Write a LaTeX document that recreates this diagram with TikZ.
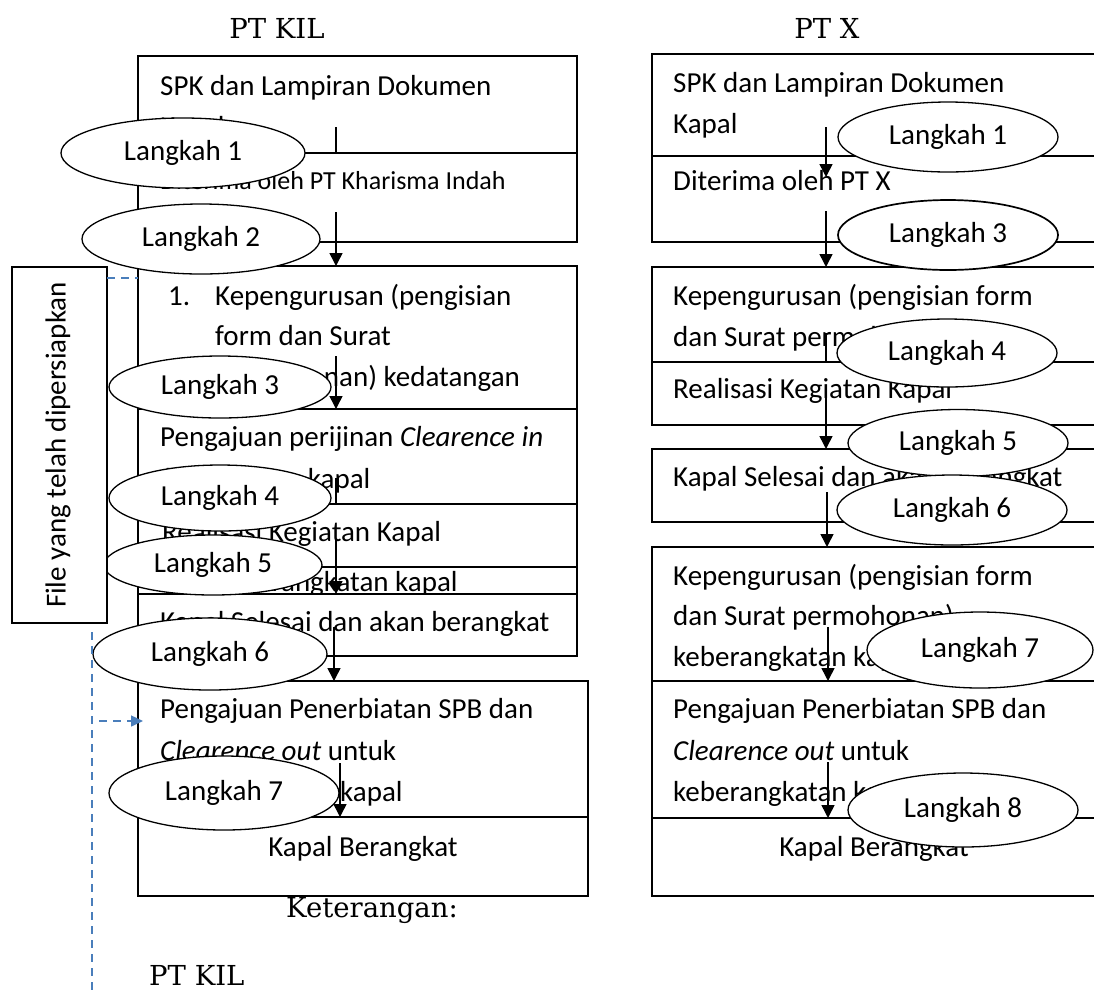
\documentclass[tikz,border=0pt]{standalone}
\usepackage{fontspec}
\setmainfont{Carlito}
\newfontfamily\ttlfont{DejaVu Serif}
\usetikzlibrary{arrows.meta,shapes.geometric}
\definecolor{fileblue}{RGB}{74,126,187}
\begin{document}
\begin{tikzpicture}[x=1pt,y=-1pt,
  font=\fontsize{29}{35}\selectfont,
  box/.style={draw, line width=1.5pt, fill=white, inner sep=0pt, outer sep=0pt, anchor=north west},
  txt/.style={anchor=base west, inner sep=0pt},
  ctxt/.style={anchor=base, inner sep=0pt},
  stepell/.style={ellipse, draw, line width=1.3pt, fill=white, inner sep=0pt},
  flow/.style={line width=1.5pt, -{Triangle[length=13pt,width=13pt]}},
  flowplain/.style={line width=1.5pt},
  blued/.style={draw=fileblue, line width=1.5pt, dash pattern=on 8pt off 6pt},
  ttl/.style={font=\ttlfont\fontsize{27.5}{32}\selectfont, inner sep=0pt}
]
\useasboundingbox (0,0) rectangle (1094,989);
\fill[white] (0,0) rectangle (1094,989);
\clip (0,0) rectangle (1094,989);

% ---------- titles ----------
\node[ttl, anchor=base] (tKIL) at (277,38) {PT KIL};
\node[ttl, anchor=base] (tX) at (827,38) {PT X};

% ---------- left column (PT KIL) ----------
\node[box, minimum width=439pt, minimum height=97pt] (A1) at (138,56) {};
\node[txt] (A1t1) at (160,95) {SPK dan Lampiran Dokumen};
\node[txt] (A1t2) at (160,136) {Kapal};
\node[box, minimum width=439pt, minimum height=89pt] (A2) at (138,153) {};
\node[txt, font=\fontsize{26}{31}\selectfont] (A2t) at (160,189) {Diterima oleh PT Kharisma Indah};

\node[box, minimum width=439pt, minimum height=143pt] (B) at (138,266) {};
\node[txt] (Bn) at (168,305) {1.};
\node[txt] (Bt1) at (215,305) {Kepengurusan (pengisian};
\node[txt] (Bt2) at (215,345) {form dan Surat};
\node[txt] (Bt3) at (215,386) {permohonan) kedatangan};

\node[box, minimum width=439pt, minimum height=95pt] (P) at (138,409) {};
\node[txt] (Pt1) at (160,446) {Pengajuan perijinan \textit{Clearence in}};
\node[txt] (Pt2) at (165,488) {kedatangan kapal};

\node[box, minimum width=439pt, minimum height=63pt] (R) at (138,504) {};
\node[txt] (Rt) at (162,541) {Realisasi Kegiatan Kapal};

\node[box, minimum width=439pt, minimum height=53pt] (K) at (138,567) {};
\node[txt] (Kt) at (215,591) {keberangkatan kapal};

\node[box, minimum width=439pt, minimum height=62pt] (S) at (138,594) {};
\node[txt] (St) at (160,631) {Kapal Selesai dan akan berangkat};

\node[box, minimum width=450pt, minimum height=136pt] (C) at (138,681) {};
\node[txt] (Ct1) at (160,718) {Pengajuan Penerbiatan SPB dan};
\node[txt] (Ct2) at (160,760) {\textit{Clearence out} untuk};
\node[txt] (Ct3) at (160,801) {keberangkatan kapal};

\node[box, minimum width=450pt, minimum height=79pt] (D) at (138,817) {};
\node[ctxt] (Dt) at (363,856) {Kapal Berangkat};

% ---------- right column (PT X) ----------
\node[box, minimum width=444pt, minimum height=102pt] (X1) at (652,54) {};
\node[txt] (X1t1) at (673,92) {SPK dan Lampiran Dokumen};
\node[txt] (X1t2) at (673,133) {Kapal};
\node[box, minimum width=444pt, minimum height=86pt] (X2) at (652,156) {};
\node[txt] (X2t) at (673,190) {Diterima oleh PT X};

\node[box, minimum width=444pt, minimum height=95pt] (X3) at (652,267) {};
\node[txt] (X3t1) at (673,305) {Kepengurusan (pengisian form};
\node[txt] (X3t2) at (673,346) {dan Surat permohonan)};
\node[box, minimum width=444pt, minimum height=63pt] (X4) at (652,362) {};
\node[txt] (X4t) at (673,398) {Realisasi Kegiatan Kapal};

\node[box, minimum width=444pt, minimum height=73pt] (X5) at (652,449) {};
\node[txt] (X5t) at (673,486) {Kapal Selesai dan akan berangkat};

\node[box, minimum width=444pt, minimum height=134pt] (X6) at (652,547) {};
\node[txt] (X6t1) at (673,585) {Kepengurusan (pengisian form};
\node[txt] (X6t2) at (673,625) {dan Surat permohonan)};
\node[txt] (X6t3) at (673,666) {keberangkatan kapal};

\node[box, minimum width=444pt, minimum height=137pt] (X7) at (652,681) {};
\node[txt] (X7t1) at (673,718) {Pengajuan Penerbiatan SPB dan};
\node[txt] (X7t2) at (673,760) {\textit{Clearence out} untuk};
\node[txt] (X7t3) at (673,801) {keberangkatan kapal};

\node[box, minimum width=444pt, minimum height=78pt] (X8) at (652,818) {};
\node[ctxt] (X8t) at (874,856) {Kapal Berangkat};

% ---------- arrows, left ----------
\coordinate (a1s) at (336,127); \coordinate (a1e) at (336,153);
\coordinate (a2s) at (336,212); \coordinate (a2e) at (336,266);
\coordinate (a3s) at (336,356); \coordinate (a3e) at (336,409);
\coordinate (a4s) at (336,478); \coordinate (a4e) at (336,504);
\coordinate (a5s) at (336,540); \coordinate (a5e) at (336,594);
\coordinate (a6s) at (334,627); \coordinate (a6e) at (334,681);
\coordinate (a7s) at (340,763); \coordinate (a7e) at (340,817);
\draw[flowplain] (a1s) -- (a1e);
\draw[flow] (a2s) -- (a2e);
\draw[flow] (a3s) -- (a3e);
\draw[flowplain] (a4s) -- (a4e);
\draw[flow] (a5s) -- (a5e);
\draw[flow] (a6s) -- (a6e);
\draw[flow] (a7s) -- (a7e);

% ---------- arrows, right ----------
\coordinate (b1s) at (826,127); \coordinate (b1e) at (826,177);
\coordinate (b2s) at (826,211); \coordinate (b2e) at (826,267);
\coordinate (b3s) at (826,333); \coordinate (b3e) at (826,362);
\coordinate (b4s) at (826,393); \coordinate (b4e) at (826,449);
\coordinate (b5s) at (827,492); \coordinate (b5e) at (827,547);
\coordinate (b6s) at (828,627); \coordinate (b6e) at (828,681);
\coordinate (b7s) at (828,762); \coordinate (b7e) at (828,818);
\draw[flow] (b1s) -- (b1e);
\draw[flow] (b2s) -- (b2e);
\draw[flowplain] (b3s) -- (b3e);
\draw[flow] (b4s) -- (b4e);
\draw[flow] (b5s) -- (b5e);
\draw[flow] (b6s) -- (b6e);
\draw[flow] (b7s) -- (b7e);

% ---------- step ellipses, left ----------
\node[stepell, minimum width=244pt, minimum height=70pt] (L1) at (183,153) {Langkah 1\hspace{20pt}};
\node[stepell, minimum width=238pt, minimum height=70pt] (L2) at (201,239) {Langkah 2};
\node[stepell, minimum width=222pt, minimum height=62pt] (L3) at (220,387) {Langkah 3};
\node[stepell, minimum width=222pt, minimum height=66pt] (L4) at (220,498) {Langkah 4};
\node[stepell, minimum width=218pt, minimum height=60pt] (L5) at (213,565) {Langkah 5};
\node[stepell, minimum width=234pt, minimum height=72pt] (L6) at (210,654) {Langkah 6\hspace{12pt}};
\node[stepell, minimum width=230pt, minimum height=74pt] (L7) at (224,793) {Langkah 7};

% ---------- step ellipses, right ----------
\node[stepell, minimum width=220pt, minimum height=70pt] (M1) at (948,137) {Langkah 1};
\node[stepell, minimum width=220pt, minimum height=70pt, line width=1.7pt] (M3) at (948,235) {Langkah 3};
\node[stepell, minimum width=220pt, minimum height=68pt] (M4) at (947,353) {Langkah 4};
\node[stepell, minimum width=220pt, minimum height=67pt] (M5) at (958,443) {Langkah 5};
\node[stepell, minimum width=230pt, minimum height=70pt] (M6) at (952,510) {Langkah 6};
\node[stepell, minimum width=226pt, minimum height=76pt] (M7) at (980,650) {Langkah 7};
\node[stepell, minimum width=230pt, minimum height=74pt] (M8) at (963,810) {Langkah 8};

% ---------- file box and blue dashed connectors ----------
\node[box, minimum width=95pt, minimum height=356pt] (FB) at (12,267) {};
\node[rotate=90, inner sep=0pt] (FBt) at (58,445) {File yang telah dipersiapkan};
\coordinate (f1) at (107,278); \coordinate (f2) at (138,278);
\draw[blued] (f1) -- (f2);
\coordinate (v1) at (92,632); \coordinate (v2) at (92,995);
\draw[blued] (v1) -- (v2);
\coordinate (h1) at (99,721); \coordinate (h2) at (143,721);
\draw[blued, -{Triangle[length=12pt,width=11pt]}] (h1) -- (h2);

% ---------- legend ----------
\node[ttl, anchor=base west] (ket) at (286,917) {Keterangan:};
\node[ttl, anchor=base west] (legKIL) at (149,985) {PT KIL};
\end{tikzpicture}
\end{document}
